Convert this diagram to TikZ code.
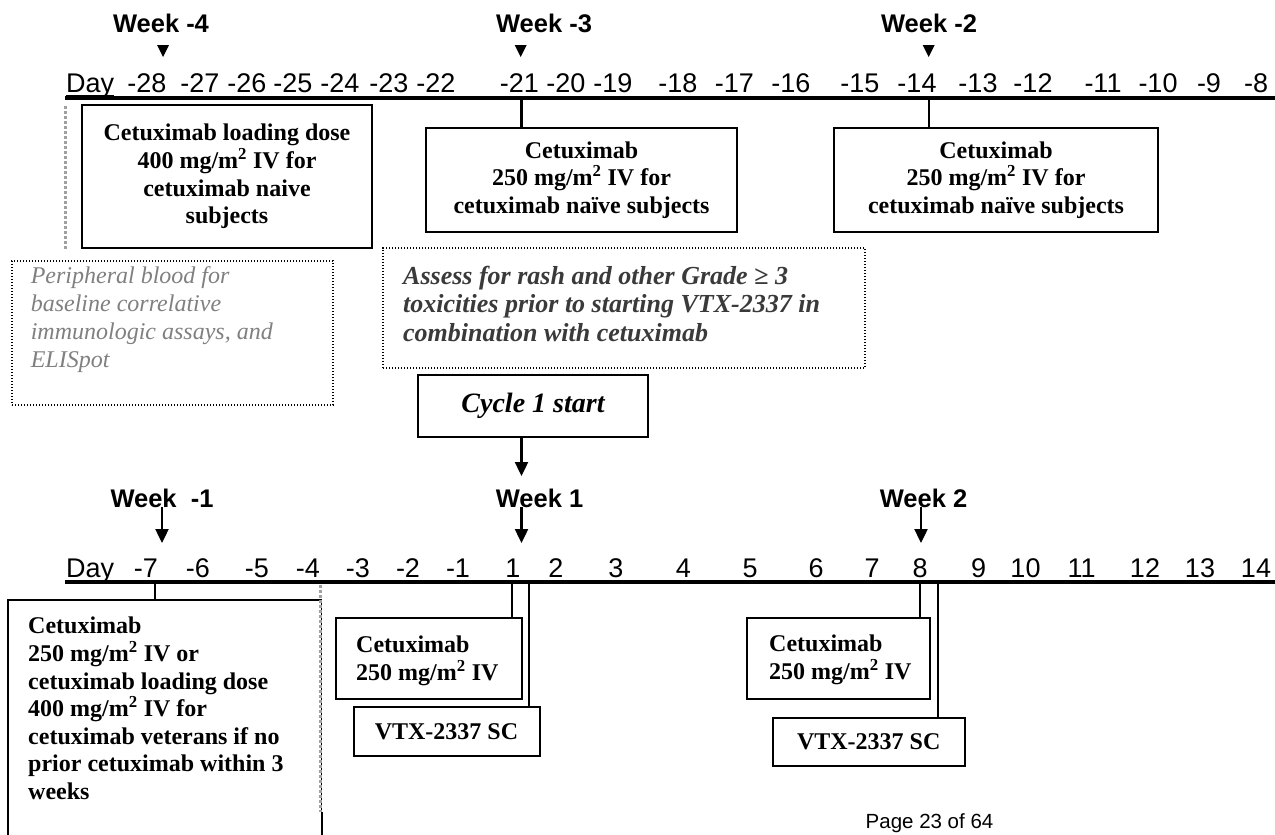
\documentclass[tikz,border=0pt]{standalone}
\usepackage{fontspec}
\setmainfont{Liberation Serif}
\newfontfamily\arialf{Liberation Sans}
\usetikzlibrary{arrows.meta}
\definecolor{graytext}{HTML}{808080}
\definecolor{darktext}{HTML}{3A3A3A}
\definecolor{graydashc}{HTML}{A0A0A0}
\begin{document}
\begin{tikzpicture}[x=1pt,y=-1pt,
  tl/.style={line width=3.2pt},
  conn/.style={line width=2.4pt},
  arr/.style={line width=2.4pt,-{Triangle[width=13pt,length=14pt]}},
  frame/.style={draw,line width=2pt,rectangle,inner sep=0pt},
  dotbox/.style={draw,line width=1.4pt,dash pattern=on 1.4pt off 1.6pt,rectangle,inner sep=0pt},
  graydash/.style={draw=graydashc,line width=3pt,dash pattern=on 3pt off 2pt},
  daylab/.style={font=\arialf\fontsize{27}{30}\selectfont,anchor=base,inner sep=0pt},
  weeklab/.style={font=\arialf\bfseries\fontsize{25.5}{28}\selectfont,anchor=base,inner sep=0pt},
  boxtxt/.style={font=\bfseries\fontsize{24}{27.7}\selectfont,align=center},
  lefttxt/.style={font=\bfseries\fontsize{24}{27.6}\selectfont,align=left,anchor=north west,inner sep=0pt},
]
\useasboundingbox[fill=white] (0,0) rectangle (1275,835);

% ---------- top timeline ----------
\node[weeklab] (wkm4) at (161,32) {Week -4};
\node[weeklab] (wkm3) at (544,32) {Week -3};
\node[weeklab] (wkm2) at (929,32) {Week -2};
\foreach \x in {163,520.7,928.7} \fill (\x-6,45) -- (\x+6,45) -- (\x,57) -- cycle;

\node[daylab,anchor=base west] (dayT) at (66,92) {Day};
\draw[line width=1.5pt] ([yshift=-3.5pt]dayT.base west) -- ([yshift=-3.5pt]dayT.base east);
\foreach \lab/\x [count=\i] in {-28/147,-27/200,-26/247,-25/293,-24/340,-23/389,-22/436,-21/519.5,-20/566,-19/613,-18/678,-17/734.5,-16/791,-15/860,-14/917,-13/978,-12/1033,-11/1103,-10/1158,-9/1209,-8/1256}
  \node[daylab] (dt\i) at (\x,92) {\lab};

\coordinate (tT0) at (65,98);
\coordinate (tT1) at (1275,98);
\draw[tl] (tT0) -- (tT1);

\node[frame,minimum width=290pt,minimum height=143pt,boxtxt] (b1) at (227,176.5)
  {Cetuximab loading dose\\400 mg/m\textsuperscript{2} IV for\\cetuximab naive\\subjects};
\node[frame,minimum width=311pt,minimum height=104pt,boxtxt] (b2) at (581.5,180)
  {Cetuximab\\250 mg/m\textsuperscript{2} IV for\\cetuximab naïve subjects};
\node[frame,minimum width=324pt,minimum height=104pt,boxtxt] (b3) at (996,180)
  {Cetuximab\\250 mg/m\textsuperscript{2} IV for\\cetuximab naïve subjects};

\coordinate (cA) at (521.6,98);
\draw[conn] (cA) -- (cA |- b2.north);
\coordinate (cB) at (929,98);
\draw[conn] (cB) -- (cB |- b3.north);

\coordinate (gT1) at (65,106);
\coordinate (gT2) at (65,250);
\draw[graydash] (gT1) -- (gT2);

% ---------- middle ----------
\node[dotbox,minimum width=321pt,minimum height=144pt] (per) at (172.5,333) {};
\node[anchor=north west,inner sep=0pt,align=left,text=graytext,font=\itshape\fontsize{24}{28}\selectfont] (pertxt) at (30.6,266.5)
  {Peripheral blood for\\baseline correlative\\immunologic assays, and\\ELISpot};

\node[dotbox,minimum width=482pt,minimum height=120pt] (ass) at (624,308) {};
\node[anchor=north west,inner sep=0pt,align=left,text=darktext,font=\bfseries\itshape\fontsize{26}{28.5}\selectfont] (asstxt) at (403,265.5)
  {Assess for rash and other Grade ≥ 3\\toxicities prior to starting VTX-2337 in\\combination with cetuximab};

\node[frame,minimum width=230pt,minimum height=62pt,font=\bfseries\itshape\fontsize{28}{32}\selectfont] (cyc) at (533,406) {Cycle 1 start};
\coordinate (aC) at (521.5,476);
\draw[arr] (aC |- cyc.south) -- (aC);

% ---------- bottom timeline ----------
\node[weeklab] (wkm1) at (162,507) {Week\ \ -1};
\node[weeklab] (wk1) at (539.5,507) {Week 1};
\node[weeklab] (wk2) at (923.5,507) {Week 2};
\coordinate (aW1) at (162,543);
\coordinate (aW2) at (521.5,543);
\coordinate (aW3) at (921,543);
\draw[arr] (aW1 |- wkm1.base) -- (aW1);
\draw[arr] (aW2 |- wk1.base) -- (aW2);
\draw[arr] (aW3 |- wk2.base) -- (aW3);

\node[daylab,anchor=base west] (dayB) at (66,577) {Day};
\foreach \lab/\x [count=\i] in {-7/146,-6/198,-5/257,-4/308,-3/358,-2/408,-1/458,1/513,2/556,3/616,4/683.5,5/750,6/816,7/872,8/920,9/978.5,10/1025.5,11/1081.6,12/1145,13/1200,14/1256}
  \node[daylab] (db\i) at (\x,577) {\lab};

\coordinate (tB0) at (65,582);
\coordinate (tB1) at (1275,582);
\draw[tl] (tB0) -- (tB1);

\node[frame,minimum width=314pt,minimum height=260pt,anchor=north west] (vet) at (7,599) {};
\node[lefttxt] (vettxt) at (28,617)
  {Cetuximab\\250 mg/m\textsuperscript{2} IV or\\cetuximab loading dose\\400 mg/m\textsuperscript{2} IV for\\cetuximab veterans if no\\prior cetuximab within 3\\weeks};
\coordinate (gB1) at (320.6,585);
\coordinate (gB2) at (320.6,812);
\draw[white,line width=2.8pt] (vet.north east) -- (vet.north east |- gB2);
\draw[graydash] (gB1) -- (gB2);

\node[frame,minimum width=186pt,minimum height=81pt] (cet1) at (428.5,658.5) {};
\node[lefttxt] (cet1t) at (356,636) {Cetuximab\\250 mg/m\textsuperscript{2} IV};
\node[frame,minimum width=186pt,minimum height=49pt,boxtxt] (vtx1) at (446.5,731.5) {VTX-2337 SC};
\node[frame,minimum width=183pt,minimum height=81pt] (cet2) at (838.5,658.5) {};
\node[lefttxt] (cet2t) at (769,635) {Cetuximab\\250 mg/m\textsuperscript{2} IV};
\node[frame,minimum width=192.5pt,minimum height=48pt,boxtxt] (vtx2) at (868.75,742) {VTX-2337 SC};

\coordinate (cC) at (155,582);
\draw[conn] (cC) -- (cC |- vet.north);
\coordinate (cD) at (512,582);
\draw[conn] (cD) -- (cD |- cet1.north);
\coordinate (cE) at (529,582);
\draw[conn] (cE) -- (cE |- vtx1.north);
\coordinate (cF) at (920,582);
\draw[conn] (cF) -- (cF |- cet2.north);
\coordinate (cG) at (938,582);
\draw[conn] (cG) -- (cG |- vtx2.north);

\node[font=\arialf\fontsize{20.5}{24}\selectfont,anchor=base west,inner sep=0pt] (page) at (865.5,828) {Page 23 of 64};
\end{tikzpicture}
\end{document}
